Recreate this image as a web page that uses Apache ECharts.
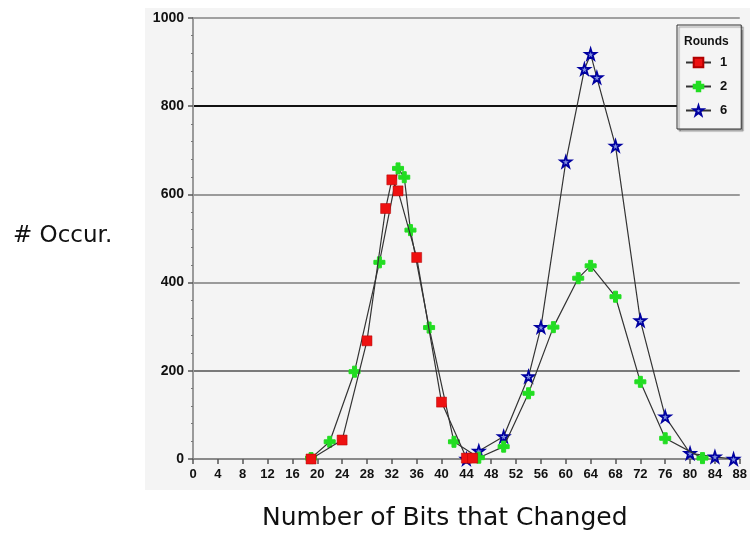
<!DOCTYPE html>
<html>
<head>
<meta charset="utf-8">
<script src="https://cdn.jsdelivr.net/npm/echarts@6/dist/echarts.min.js"></script>
<style>
  html, body { margin: 0; padding: 0; background: #ffffff; }
  #chart { width: 750px; height: 539px; }
</style>
</head>
<body>
<div id="chart"></div>
<script>
// ---- data ----
const xTicks = [0, 88, 4];          // min, max, step of "Number of Bits that Changed"
const yTicks = [0, 1000, 200];      // min, max, step of "# Occur."
const seriesNames = ['1', '2', '6'];

const round1X = [19, 24, 28, 31, 32, 33, 36, 40, 44, 45];
const round1Y = [0, 43, 268, 568, 633, 608, 457, 129, 2, 2];

const round2X = [19, 22, 26, 30, 33, 34, 35, 38, 42, 46, 50, 54, 58, 62, 64, 68, 72, 76, 82];
const round2Y = [2, 39, 198, 446, 659, 639, 519, 298, 39, 3, 28, 149, 299, 410, 438, 368, 175, 47, 2];

const round6X = [44, 46, 50, 54, 56, 60, 63, 64, 65, 68, 72, 76, 80, 84, 87];
const round6Y = [0, 18, 51, 187, 299, 674, 884, 918, 865, 710, 314, 96, 13, 5, 0];

// ---- build ----
function pairs(xs, ys) { return xs.map((x, i) => [x, ys[i]]); }

const STAR = 'path://M50,2 L61,36 L97,36 L68,57 L79,92 L50,71 L21,92 L32,57 L3,36 L39,36 Z';
const PLUS = 'path://M32,0 H68 V32 H100 V68 H68 V100 H32 V68 H0 V32 H32 Z';

const chart = echarts.init(document.getElementById('chart'), null, { renderer: 'canvas' });

const tickFont = { fontFamily: 'Liberation Sans', fontWeight: 'bold', color: '#111' };

const option = {
  backgroundColor: '#ffffff',
  animation: false,
  grid: { left: 193, right: 8, top: 18, bottom: 80, containLabel: false },
  graphic: [
    { type: 'rect', z: -10, silent: true,
      shape: { x: 145, y: 8, width: 605, height: 482 },
      style: { fill: '#f4f4f4' } },
    { type: 'text', z: 100, left: 13, top: 225,
      style: { text: '# Occur.', font: '23px "DejaVu Sans"', fill: '#111' } },
    { type: 'text', z: 100, left: 262, top: 506,
      style: { text: 'Number of Bits that Changed', font: '25px "DejaVu Sans"', fill: '#111' } },
    { type: 'text', z: 100, left: 684, top: 36,
      style: { text: 'Rounds', font: 'bold 12px "Liberation Sans"', fill: '#111' } }
  ],
  legend: {
    orient: 'vertical',
    left: 677, top: 25,
    data: seriesNames,
    backgroundColor: '#f4f4f4',
    borderColor: '#333',
    borderWidth: 1,
    shadowColor: 'rgba(0,0,0,0.35)',
    shadowOffsetX: 2, shadowOffsetY: 2, shadowBlur: 1,
    padding: [31, 14, 12, 8],
    itemWidth: 25, itemHeight: 12,
    itemGap: 11,
    textStyle: { fontFamily: 'Liberation Sans', fontWeight: 'bold', fontSize: 13, color: '#111', padding: [0, 0, 0, 4] }
  },
  xAxis: {
    type: 'value',
    min: xTicks[0], max: xTicks[1], interval: xTicks[2],
    axisLine: { show: true, lineStyle: { color: '#8a8a8a', width: 2 } },
    axisTick: { show: true, length: 5, lineStyle: { color: '#555', width: 1.5 } },
    axisLabel: Object.assign({ fontSize: 13, margin: 9, formatter: v => String(v) }, tickFont),
    splitLine: { show: false }
  },
  yAxis: {
    type: 'value',
    min: yTicks[0], max: yTicks[1], interval: yTicks[2],
    axisLine: { show: true, lineStyle: { color: '#9a9a9a', width: 2 } },
    axisTick: { show: true, length: 5, lineStyle: { color: '#555', width: 1.5 } },
    minorTick: { show: true, splitNumber: 5, length: 2, lineStyle: { color: '#777' } },
    axisLabel: Object.assign({ fontSize: 14, margin: 9, formatter: v => String(v) }, tickFont),
    splitLine: { show: true, lineStyle: { width: 2, color: ['#9a9a9a', '#7a7a7a', '#9a9a9a', '#9a9a9a', '#111111', '#a0a0a0'] } }
  },
  series: [
    { name: seriesNames[0], type: 'line', z: 5,
      data: pairs(round1X, round1Y),
      symbol: 'rect', symbolSize: 10,
      itemStyle: { color: '#ee1111', borderColor: '#b00000', borderWidth: 0.5 },
      lineStyle: { color: '#333', width: 1.2 } },
    { name: seriesNames[1], type: 'line', z: 4,
      data: pairs(round2X, round2Y),
      symbol: PLUS, symbolSize: 11,
      itemStyle: { color: '#22dd22', borderColor: '#22dd22', borderWidth: 1 },
      lineStyle: { color: '#333', width: 1.2 } },
    { name: seriesNames[2], type: 'line', z: 3,
      data: pairs(round6X, round6Y),
      symbol: STAR, symbolSize: 11,
      itemStyle: { color: '#8090e0', borderColor: '#0000a0', borderWidth: 1.8 },
      lineStyle: { color: '#333', width: 1.2 } }
  ]
};

chart.setOption(option);
</script>
</body>
</html>
